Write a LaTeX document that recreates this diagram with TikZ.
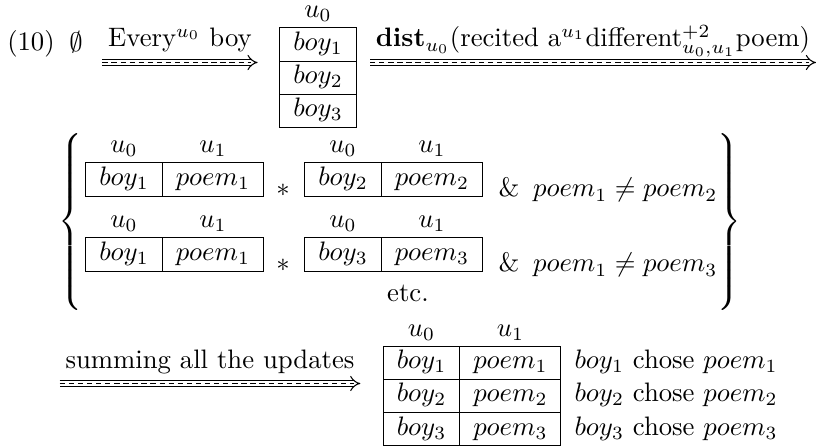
\documentclass[tikz,border=0pt]{standalone}
\usepackage{amsmath}
\usepackage{amssymb}
\usepackage{tikz}
\usetikzlibrary{arrows.meta,positioning}

\begin{document}
\begin{tikzpicture}[
    x=0.3745pt, y=-0.3745pt,
    node distance = 0pt,
    cell/.style = {rectangle, draw, inner sep=0pt, outer sep=0pt, minimum height=12.4pt, text height=6.9pt, text depth=2.5pt},
    boycell/.style = {cell, minimum width=28.8pt},
    poemcell/.style = {cell, minimum width=37.8pt},
    hdr/.style = {inner sep=0pt, text depth=0pt},
    lbl/.style = {inner xsep=2pt, inner ysep=0pt, anchor=base},
    note/.style = {inner sep=0pt, text height=6.9pt, text depth=2.5pt},
    brace/.style = {inner sep=0pt},
    imp/.style = {double, double distance=1.6pt, line width=0.4pt, -{Implies}},
    dots/.style = {line width=0.4pt, dash pattern=on 2pt off 1.4pt}
]
    \useasboundingbox (0,0) rectangle (816,446);

    % First line
    \node[anchor=base] (num) at (31,51) {(10)};
    \node[anchor=base] (empty) at (76,52) {$\emptyset$};
    \node[lbl] (every) at (180,47) {Every$^{u_0}$ boy};
    \node[boycell] (b1) at (318,44.5) {$boy_1$};
    \node[boycell, below=of b1] (b2) {$boy_2$};
    \node[boycell, below=of b2] (b3) {$boy_3$};
    \node[hdr, above=3.7pt of b1] (b1h) {$u_0$};
    \node[lbl] (dist) at (593,47) {\textbf{dist}$_{u_0}$(recited a$^{u_1}$different$^{+2}_{u_0,u_1}$poem)};

    % Set of updates
    \node[brace] (lbrace) at (72,222) {$\left\{\vcenter{\hbox{\rule{0pt}{70pt}}}\right.$};
    \node[brace] (rbrace) at (728,222) {$\left.\vcenter{\hbox{\rule{0pt}{70pt}}}\right\}$};

    \node[boycell] (ra1) at (124,179.5) {$boy_1$};
    \node[poemcell, right=of ra1] (ra2) {$poem_1$};
    \node[hdr, above=3.7pt of ra1] (ra1h) {$u_0$};
    \node[hdr, above=3.7pt of ra2] (ra2h) {$u_1$};
    \node (rastar) at (283,190) {$*$};
    \node[boycell] (ra3) at (343,179.5) {$boy_2$};
    \node[poemcell, right=of ra3] (ra4) {$poem_2$};
    \node[hdr, above=3.7pt of ra3] (ra3h) {$u_0$};
    \node[hdr, above=3.7pt of ra4] (ra4h) {$u_1$};
    \node[anchor=base west, inner sep=0pt] (racond) at (498,197) {\&\hspace{5.2pt}$poem_1 \neq poem_2$};

    \node[boycell] (rb1) at (124,254.5) {$boy_1$};
    \node[poemcell, right=of rb1] (rb2) {$poem_1$};
    \node[hdr, above=3.7pt of rb1] (rb1h) {$u_0$};
    \node[hdr, above=3.7pt of rb2] (rb2h) {$u_1$};
    \node (rbstar) at (283,265) {$*$};
    \node[boycell] (rb3) at (343,254.5) {$boy_3$};
    \node[poemcell, right=of rb3] (rb4) {$poem_3$};
    \node[hdr, above=3.7pt of rb3] (rb3h) {$u_0$};
    \node[hdr, above=3.7pt of rb4] (rb4h) {$u_1$};
    \node[anchor=base west, inner sep=0pt] (rbcond) at (498,272) {\&\hspace{5.2pt}$poem_1 \neq poem_3$};

    \node[anchor=base] (etc) at (408,302) {etc.};

    % Result
    \node[lbl] (summing) at (210,368) {summing all the updates};
    \node[boycell] (s1) at (421.5,363) {$boy_1$};
    \node[poemcell, right=of s1] (sp1) {$poem_1$};
    \node[boycell, below=of s1] (s2) {$boy_2$};
    \node[poemcell, right=of s2] (sp2) {$poem_2$};
    \node[boycell, below=of s2] (s3) {$boy_3$};
    \node[poemcell, right=of s3] (sp3) {$poem_3$};
    \node[hdr, above=3.7pt of s1] (s1h) {$u_0$};
    \node[hdr, above=3.7pt of sp1] (sp1h) {$u_1$};
    \node[note, right=4.9pt of sp1] (n1) {$boy_1$ chose $poem_1$};
    \node[note, right=4.9pt of sp2] (n2) {$boy_2$ chose $poem_2$};
    \node[note, right=4.9pt of sp3] (n3) {$boy_3$ chose $poem_3$};

    % Arrows
    \foreach \lab in {every, dist, summing} {
        \draw[imp] ([yshift=-5.8pt]\lab.base west) -- ([yshift=-5.8pt]\lab.base east);
        \draw[dots] ([yshift=-5.8pt]\lab.base west) -- ([yshift=-5.8pt, xshift=-2.5pt]\lab.base east);
    }
\end{tikzpicture}
\end{document}
